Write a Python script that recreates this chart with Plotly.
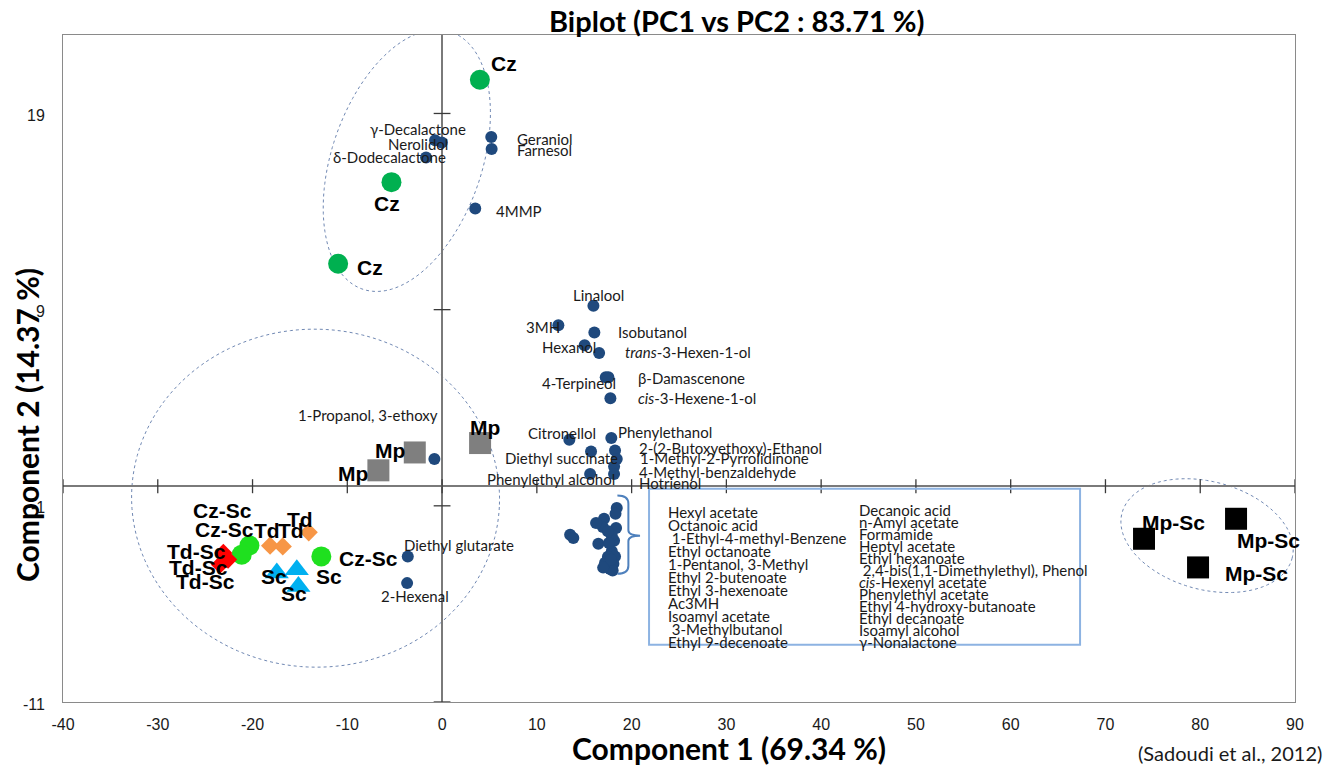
import numpy as np
import plotly.graph_objects as go

# ---------------- data ----------------
# Wine samples (scores)
cz_x = [3.99, -5.34, -10.97]
cz_y = [20.72, 15.50, 11.34]
czsc_x = [-20.33, -21.14, -12.74]
czsc_y = [-3.02, -3.49, -3.58]
td_x = [-18.15, -16.81, -14.07]
td_y = [-3.03, -3.07, -2.35]
tdsc_x = [-23.08, -23.43, -22.58]
tdsc_y = [-3.40, -4.00, -3.74]
sc_x = [-17.44, -15.33, -15.16]
sc_y = [-4.42, -4.26, -5.11]
mp_x = [4.01, -2.88, -6.72]
mp_y = [2.20, 1.72, 0.81]
mpsc_x = [74.07, 83.78, 79.77]
mpsc_y = [-2.68, -1.66, -4.14]

# Volatile compounds (loadings) that carry their own label
var_names = [
    "γ-Decalactone", "Nerolidol", "δ-Dodecalactone", "Geraniol", "Farnesol", "4MMP",
    "Linalool", "3MH", "Isobutanol", "Hexanol", "<i>trans</i>-3-Hexen-1-ol",
    "4-Terpineol", "β-Damascenone", "<i>cis</i>-3-Hexene-1-ol", "Citronellol",
    "Phenylethanol", "Diethyl succinate", "2-(2-Butoxyethoxy)-Ethanol",
    "1-Methyl-2-Pyrrolidinone", "4-Methyl-benzaldehyde", "Phenylethyl alcohol",
    "Hotrienol", "1-Propanol, 3-ethoxy", "Diethyl glutarate", "2-Hexenal",
]
var_x = [-0.74, -0.03, -1.69, 5.19, 5.23, 3.50,
         15.97, 12.27, 16.07, 15.04, 16.57,
         17.27, 17.55, 17.76, 13.43,
         17.86, 15.72, 18.25,
         18.43, 18.15, 15.62,
         18.15, -0.81, -3.62, -3.69]
var_y = [17.63, 17.52, 16.76, 17.80, 17.19, 14.16,
         9.20, 8.20, 7.84, 7.18, 6.79,
         5.55, 5.55, 4.48, 2.37,
         2.46, 1.77, 1.82,
         1.39, 1.01, 0.62,
         0.62, 1.39, -3.58, -4.94]

# Compounds grouped under the brace (listed in the box)
box_left = ["Hexyl acetate", "Octanoic acid", " 1-Ethyl-4-methyl-Benzene", "Ethyl octanoate",
            "1-Pentanol, 3-Methyl", "Ethyl 2-butenoate", "Ethyl 3-hexenoate", "Ac3MH",
            "Isoamyl acetate", " 3-Methylbutanol", "Ethyl 9-decenoate"]
box_right = ["Decanoic acid", "n-Amyl acetate", "Formamide", "Heptyl acetate", "Ethyl hexanoate",
             " 2,4-bis(1,1-Dimethylethyl), Phenol", "<i>cis</i>-Hexenyl acetate",
             "Phenylethyl acetate", "Ethyl 4-hydroxy-butanoate", "Ethyl decanoate",
             "Isoamyl alcohol", "γ-Nonalactone"]
grp_x = [18.43, 17.09, 16.96, 18.36, 13.51, 13.85, 16.49, 18.15, 17.91, 18.25, 17.38,
         17.73, 18.08, 16.25, 17.50, 17.90, 18.00, 17.20, 18.30, 17.60, 17.80, 17.00, 17.50]
grp_y = [-1.11, -1.66, -2.08, -2.13, -2.47, -2.64, -2.93, -2.78, -3.32, -3.58, -4.09,
         -4.22, -3.95, -1.88, -3.60, -2.50, -4.30, -3.90, -1.40, -2.90, -3.75, -4.15, -2.30]

x_ticks = list(range(-40, 100, 10))
x_ticktext = [str(v) for v in x_ticks]
y_ticks = [-11, -1, 9, 19]
y_ticktext = [str(v) for v in y_ticks]
X_RANGE = [-40, 90]
Y_RANGE = [-11, 23]

# ---------------- geometry helpers ----------------
W, H = 1328, 766
ML, MR, MT, MB = 63, 33, 35, 64
PW, PH = W - ML - MR, H - MT - MB
PX_X = PW / (X_RANGE[1] - X_RANGE[0])
PX_Y = PH / (Y_RANGE[1] - Y_RANGE[0])


def ellipse_path(cx, cy, a_px, b_px, theta_deg, n=160):
    t = np.linspace(0, 2 * np.pi, n)
    th = np.radians(theta_deg)
    ex = a_px * np.cos(t) * np.cos(th) - b_px * np.sin(t) * np.sin(th)
    ey = a_px * np.cos(t) * np.sin(th) + b_px * np.sin(t) * np.cos(th)
    xs = cx + ex / PX_X
    ys = cy + ey / PX_Y
    return "M " + " L ".join(f"{x:.3f},{y:.3f}" for x, y in zip(xs, ys)) + " Z"


fig = go.Figure()

# crossing tick marks on the central axes
fig.add_trace(go.Scatter(x=x_ticks, y=[0] * len(x_ticks), mode="markers", hoverinfo="skip",
                         marker=dict(symbol="line-ns", size=10, line=dict(width=1.3, color="#3a3a3a"))))
fig.add_trace(go.Scatter(x=[0] * len(y_ticks), y=y_ticks, mode="markers", hoverinfo="skip",
                         marker=dict(symbol="line-ew", size=12, line=dict(width=1.3, color="#3a3a3a"))))

DARKBLUE = "#1F497D"
fig.add_trace(go.Scatter(x=grp_x, y=grp_y, mode="markers",
                         marker=dict(size=12, color=DARKBLUE)))
fig.add_trace(go.Scatter(x=var_x, y=var_y, mode="markers",
                         marker=dict(size=12, color=DARKBLUE)))

groups = [
    ("Cz", cz_x, cz_y, "circle", 20, "#00B050"),
    ("Mp", mp_x, mp_y, "square", 22, "#7F7F7F"),
    ("Td", td_x, td_y, "diamond", 14, "#F79646"),
    ("Sc", sc_x, sc_y, "triangle-up", 21, "#00B0F0"),
    ("Cz-Sc", czsc_x, czsc_y, "circle", 20, "#1FE01F"),
    ("Td-Sc", tdsc_x, tdsc_y, "diamond", 14, "#FF0000"),
    ("Mp-Sc", mpsc_x, mpsc_y, "square", 22, "#000000"),
]
for name, gx, gy, sym, sz, col in groups:
    fig.add_trace(go.Scatter(x=gx, y=gy, mode="markers", name=name,
                             marker=dict(symbol=sym, size=sz, color=col)))

# ---------------- labels ----------------
LABEL_FONT = dict(family="Lato", size=15, color="#1a1a1a")
GROUP_FONT = dict(family="Liberation Sans", size=21, color="#000000", weight="bold")
TICK_FONT = dict(family="Liberation Sans", size=16, color="#1a1a1a")

# (xshift, yshift in px, anchor) for each compound label
var_offsets = [
    (-17, 11, "center"), (-24, -1, "center"), (-37, 0, "center"), (24, -2, "left"),
    (23, -1, "left"), (19, -3, "left"), (5, 11, "center"), (-15, -2, "center"),
    (22, 0, "left"), (-16, -2, "center"), (24, 1, "left"), (-27, -6, "center"),
    (28, -1, "left"), (26, 0, "left"), (-7, 7, "center"), (5, 6, "left"),
    (-30, -7, "center"), (22, 3, "left"), (21, 1, "left"), (23, -6, "left"),
    (-39, -5, "center"), (23, -9, "left"), (-66, 44, "center"), (-6, 11, "left"),
    (8, -13, "center"),
]
annotations = []
for nm, vx, vy, (dx, dy, anc) in zip(var_names, var_x, var_y, var_offsets):
    annotations.append(dict(x=vx, y=vy, text=nm, showarrow=False, xanchor=anc,
                            yanchor="middle", xshift=dx, yshift=dy, font=LABEL_FONT))

group_offsets = {
    "Cz": [(24, 16), (-4, -21), (32, -4)],
    "Mp": [(5, 16), (-25, 2), (-25, -3)],
    "Td": [(-3, 15), (8, 16), (-9, 13)],
    "Sc": [(-3, -4), (32, -7), (-4, -7)],
    "Cz-Sc": [(-27, 35), (-17, 25), (47, -2)],
    "Td-Sc": [(-27, 1), (-22, -3), (-23, -22)],
    "Mp-Sc": [(29, 16), (32, -22), (58, -6)],
}
for name, gx, gy, sym, sz, col in groups:
    for (px, py), (dx, dy) in zip(zip(gx, gy), group_offsets[name]):
        annotations.append(dict(x=px, y=py, text=name, showarrow=False, xanchor="center",
                                yanchor="middle", xshift=dx, yshift=dy, font=GROUP_FONT))

# listing of the grouped compounds inside the box
BOX = dict(x0=21.84, x1=67.32, y0=-8.08, y1=-0.13)
for i, nm in enumerate(box_left):
    annotations.append(dict(x=23.6, y=-1.30 - i * 13 / PX_Y, text=nm, showarrow=False,
                            xanchor="left", yanchor="middle", font=LABEL_FONT))
for i, nm in enumerate(box_right):
    annotations.append(dict(x=43.8, y=-1.20 - i * 12 / PX_Y, text=nm, showarrow=False,
                            xanchor="left", yanchor="middle", font=LABEL_FONT))

# titles and source
TITLE_FONT = dict(family="Lato", size=30, color="#000000", weight="bold")
annotations += [
    dict(text="Biplot (PC1 vs PC2 : 83.71 %)", xref="paper", yref="paper",
         x=(737 - ML) / PW, y=1 + (MT - 20) / PH, showarrow=False, xanchor="center", yanchor="middle",
         font=dict(family="Lato", size=29, color="#000000", weight="bold")),
    dict(text="Component 1 (69.34 %)", xref="paper", yref="paper",
         x=(729 - ML) / PW, y=-(748 - (MT + PH)) / PH, showarrow=False, xanchor="center", yanchor="middle",
         font=TITLE_FONT),
    dict(text="Component 2 (14.37 %)", xref="paper", yref="paper", textangle=-90,
         x=(27 - ML) / PW, y=(MT + PH - 425) / PH, showarrow=False, xanchor="center", yanchor="middle",
         font=TITLE_FONT),
    dict(text="(Sadoudi et al., 2012)", xref="paper", yref="paper",
         x=(1324 - ML) / PW, y=-(753 - (MT + PH)) / PH, showarrow=False, xanchor="right", yanchor="middle",
         font=dict(family="Lato", size=20, color="#1a1a1a")),
]

# y tick labels, written after the axis title so they stay readable on top of it
for v, t in zip(y_ticks, y_ticktext):
    annotations.append(dict(x=0, xref="paper", y=v, yref="y", text=t, showarrow=False,
                            xanchor="right", yanchor="middle", xshift=-16, yshift=-2,
                            font=TICK_FONT))

# ---------------- shapes ----------------
ELL = "#7088b3"
shapes = [
    dict(type="path", xref="x", yref="y", path=ellipse_path(-3.72, 16.60, 136, 75, 71),
         line=dict(color=ELL, width=1, dash="dot"), layer="below"),
    dict(type="path", xref="x", yref="y", path=ellipse_path(-13.35, -0.61, 184, 169, -2),
         line=dict(color=ELL, width=1, dash="dot"), layer="below"),
    dict(type="path", xref="x", yref="y", path=ellipse_path(80.72, -2.52, 88, 54, -15),
         line=dict(color=ELL, width=1, dash="dot"), layer="below"),
    dict(type="rect", xref="x", yref="y", **BOX, line=dict(color="#8DB3E2", width=2)),
    dict(type="path", xref="x", yref="y",
         path="M 18.5,-0.48 Q 19.66,-0.48 19.66,-0.9 L 19.66,-2.25 Q 19.66,-2.52 20.89,-2.52 "
              "Q 19.66,-2.52 19.66,-2.79 L 19.66,-4.05 Q 19.66,-4.46 18.5,-4.46",
         line=dict(color="#4F81BD", width=2)),
]

fig.update_layout(
    width=W, height=H, margin=dict(l=ML, r=MR, t=MT, b=MB),
    plot_bgcolor="white", paper_bgcolor="white", showlegend=False,
    annotations=annotations, shapes=shapes,
    xaxis=dict(range=X_RANGE, tickvals=x_ticks, ticktext=x_ticktext, showgrid=False, zeroline=True,
               zerolinecolor="#7a7a7a", zerolinewidth=1.5, showline=True, mirror=True,
               linecolor="#8a8a8a", linewidth=1, ticks="", ticklabelstandoff=8,
               tickfont=TICK_FONT),
    yaxis=dict(range=Y_RANGE, tickvals=y_ticks, showticklabels=False, showgrid=False, zeroline=True,
               zerolinecolor="#7a7a7a", zerolinewidth=1.5, showline=True, mirror=True,
               linecolor="#8a8a8a", linewidth=1, ticks=""),
)

fig.write_html("out.html")
